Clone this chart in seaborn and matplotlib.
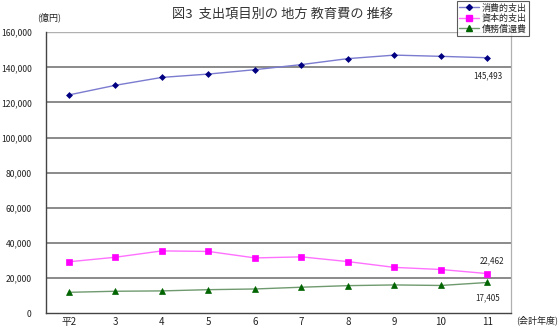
import matplotlib
matplotlib.use("Agg")
import matplotlib.pyplot as plt
from matplotlib.lines import Line2D
import seaborn as sns
import pandas as pd

years = ["平2", "3", "4", "5", "6", "7", "8", "9", "10", "11"]
consumption = [124300, 129800, 134300, 136200, 138700, 141600, 145000, 147000, 146300, 145493]
capital = [29200, 31800, 35400, 35100, 31400, 32000, 29300, 26000, 24800, 22462]
debt = [11800, 12400, 12600, 13300, 13700, 14700, 15600, 16000, 15700, 17405]

series_names = ["消費的支出", "資本的支出", "債務償還費"]
yticks = [0, 20000, 40000, 60000, 80000, 100000, 120000, 140000, 160000]

sns.set_theme(style="white")
plt.rcParams["font.family"] = ["Noto Sans CJK JP", "DejaVu Sans"]

df = pd.DataFrame({
    "pos": list(range(len(years))) * 3,
    "value": consumption + capital + debt,
    "series": sum([[n] * len(years) for n in series_names], []),
})

fig = plt.figure(figsize=(5.6, 3.32), dpi=100)
ax = fig.add_axes([0.0816, 0.0572, 0.8304, 0.8455])

styles = {
    "消費的支出": dict(line="#7b7bd0", mk="D", mfc="#000080", ms=3.0),
    "資本的支出": dict(line="#ff70ff", mk="s", mfc="#ff00ff", ms=4.0),
    "債務償還費": dict(line="#6f9a6f", mk="^", mfc="#006400", ms=4.0),
}

for name in series_names:
    st = styles[name]
    sub = df[df["series"] == name]
    sns.lineplot(data=sub, x="pos", y="value", ax=ax, color=st["line"], lw=1.0,
                 marker=st["mk"], markersize=st["ms"], markerfacecolor=st["mfc"],
                 markeredgecolor=st["mfc"], markeredgewidth=0.5, zorder=3)

ax.set_xlim(-0.5, len(years) - 0.5)
ax.set_ylim(0, 160000)
ax.set_yticks(yticks)
ax.set_yticklabels([f"{v:,}" for v in yticks], fontsize=6.2, color="#222222")
ax.set_xticks(range(len(years)))
ax.set_xticklabels(years, fontsize=7, color="#222222")
ax.set_xticks([i + 0.5 for i in range(len(years) - 1)], minor=True)
ax.tick_params(axis="x", which="major", length=0, pad=3)
ax.tick_params(axis="x", which="minor", length=3, direction="in", color="#333333", width=0.8)
ax.tick_params(axis="y", length=0, pad=10)
ax.set_xlabel("")
ax.set_ylabel("")

for v in yticks[1:-1]:
    ax.axhline(v, color="#8a8a8a", lw=1.4, zorder=1)
ax.axhline(160000, color="#b0b0b0", lw=1.0, zorder=1)

ax.spines["top"].set_visible(False)
ax.spines["right"].set_color("#b0b0b0")
ax.spines["right"].set_linewidth(0.9)
ax.spines["left"].set_color("#444444")
ax.spines["left"].set_linewidth(1.0)
ax.spines["bottom"].set_color("#444444")
ax.spines["bottom"].set_linewidth(1.0)

# end-of-series values
ax.text(9.0, consumption[-1] - 8000, f"{consumption[-1]:,}", fontsize=5.8, ha="center", va="top", color="#222222")
ax.text(9.1, capital[-1] + 4500, f"{capital[-1]:,}", fontsize=5.8, ha="center", va="bottom", color="#222222")
ax.text(9.0, debt[-1] - 6000, f"{debt[-1]:,}", fontsize=5.8, ha="center", va="top", color="#222222")

fig.text(0.505, 0.958, "図3  支出項目別の 地方 教育費の 推移", fontsize=9.5, ha="center", va="center", color="#333333")
fig.text(0.088, 0.948, "(億円)", fontsize=6.5, ha="center", va="center", color="#222222")
fig.text(0.96, 0.036, "(会計年度)", fontsize=6.5, ha="center", va="center", color="#222222")

handles = [
    Line2D([0], [0], color=styles[n]["line"], lw=1.0, marker=styles[n]["mk"],
           markersize=styles[n]["ms"], markerfacecolor=styles[n]["mfc"],
           markeredgecolor=styles[n]["mfc"])
    for n in series_names
]
leg = fig.legend(handles, series_names, loc="upper right", bbox_to_anchor=(0.945, 0.997),
                 fontsize=6.5, frameon=True, fancybox=False, handlelength=2.2,
                 handletextpad=0.3, borderpad=0.25, labelspacing=0.15, borderaxespad=0)
leg.get_frame().set_edgecolor("#333333")
leg.get_frame().set_linewidth(0.8)

fig.savefig("out.png", dpi=100)
